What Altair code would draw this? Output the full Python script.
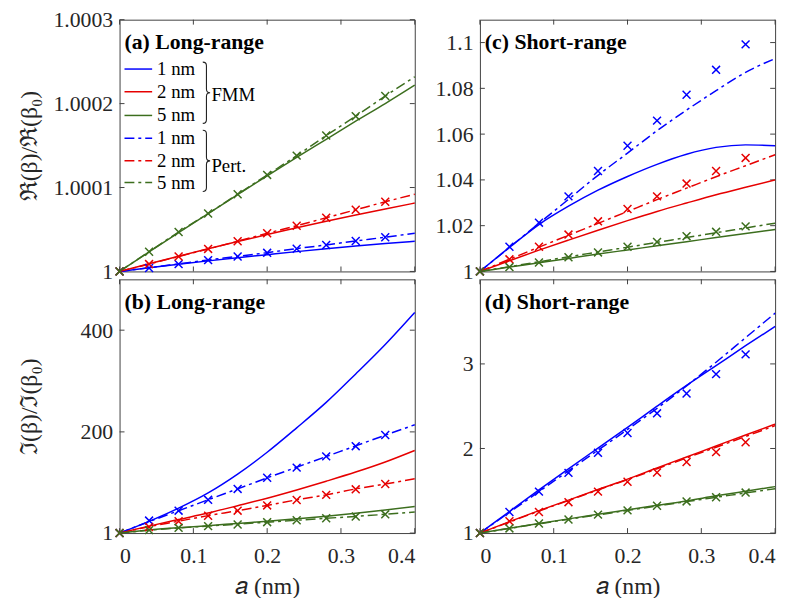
import altair as alt
import pandas as pd

# ---------------- data ----------------
A_LINE = [0.0, 0.04, 0.08, 0.12, 0.16, 0.20, 0.24, 0.28, 0.32, 0.36, 0.40]
A_MARK = [0.0, 0.04, 0.08, 0.12, 0.16, 0.20, 0.24, 0.28, 0.32, 0.36]
SERIES = ["1 nm", "2 nm", "5 nm"]
X_TICKS = [0, 0.1, 0.2, 0.3, 0.4]

# (a) Long-range, Re(beta)/Re(beta0)
A_FMM = {
    "1 nm": [1.0, 1.0000044, 1.0000086, 1.0000126, 1.0000164, 1.00002, 1.0000236, 1.000027, 1.0000302, 1.0000332, 1.000036],
    "2 nm": [1.0, 1.0000092, 1.0000182, 1.000027, 1.0000356, 1.000044, 1.000052, 1.0000598, 1.0000673, 1.0000745, 1.0000815],
    "5 nm": [1.0, 1.0000232, 1.0000462, 1.000069, 1.0000915, 1.000114, 1.000136, 1.0001575, 1.000179, 1.0002, 1.000222],
}
A_PERT = {
    "1 nm": [1.0, 1.0000044, 1.000009, 1.0000136, 1.0000179, 1.0000224, 1.0000272, 1.0000316, 1.0000363, 1.0000408, 1.0000456],
    "2 nm": [1.0, 1.0000088, 1.0000178, 1.0000268, 1.000036, 1.0000455, 1.0000545, 1.000064, 1.0000735, 1.000083, 1.000092],
    "5 nm": [1.0, 1.0000235, 1.000047, 1.000069, 1.000092, 1.000115, 1.000138, 1.000162, 1.000185, 1.000209, 1.000232],
}
A_MARKS = {
    "1 nm": [1.0, 1.0000041, 1.0000087, 1.0000135, 1.0000178, 1.0000222, 1.000027, 1.0000315, 1.0000363, 1.0000408],
    "2 nm": [1.0, 1.0000088, 1.0000178, 1.0000268, 1.000036, 1.0000455, 1.0000545, 1.000064, 1.0000735, 1.000083],
    "5 nm": [1.0, 1.0000235, 1.000047, 1.000069, 1.000092, 1.000115, 1.000138, 1.000162, 1.000185, 1.000209],
}
A_YTICKS = [1, 1.0001, 1.0002, 1.0003]

# (b) Long-range, Im(beta)/Im(beta0)
B_FMM = {
    "1 nm": [1, 24, 50, 80, 117, 160, 208, 258, 314, 372, 435],
    "2 nm": [1, 14.6, 27.6, 40.4, 54.8, 69.6, 85.8, 103, 121, 140.8, 163.5],
    "5 nm": [1, 7, 11.5, 15.5, 20, 24.3, 29, 34, 40, 46.5, 53.4],
}
B_PERT = {
    "1 nm": [1, 23.5, 45, 66.5, 88, 109.5, 130.5, 151.5, 172.5, 193.5, 214],
    "2 nm": [1, 13.5, 24.3, 35.3, 45, 55.4, 66.4, 76.1, 87.8, 97.5, 107.8],
    "5 nm": [1, 6.5, 11, 14.8, 18.4, 22.4, 26.2, 30.1, 33.8, 37.9, 42.5],
}
B_MARKS = {
    "1 nm": [1, 25.6, 45, 66.4, 87.8, 109.7, 129.7, 151.8, 171.9, 193.8],
    "2 nm": [1, 13, 24.3, 35, 45, 55.4, 66, 76.1, 87, 97.5],
    "5 nm": [1, 6.8, 11.3, 14.6, 17.9, 22.4, 26.2, 30.1, 33.4, 37.9],
}
B_YTICKS = [1, 200, 400]

# (c) Short-range, Re(beta)/Re(beta0)
C_FMM = {
    "1 nm": [1.0, 1.0105, 1.0205, 1.0285, 1.0355, 1.0415, 1.0468, 1.0512, 1.0542, 1.0553, 1.0549],
    "2 nm": [1.0, 1.0047, 1.0093, 1.0137, 1.018, 1.0222, 1.0262, 1.0299, 1.0335, 1.0368, 1.040],
    "5 nm": [1.0, 1.0019, 1.0038, 1.0057, 1.0076, 1.0094, 1.0112, 1.013, 1.0148, 1.0166, 1.0183],
}
C_PERT = {
    "1 nm": [1.0, 1.0105, 1.021, 1.0315, 1.042, 1.0517, 1.0615, 1.0705, 1.079, 1.087, 1.093],
    "2 nm": [1.0, 1.0053, 1.0106, 1.0158, 1.021, 1.0262, 1.0314, 1.0364, 1.0414, 1.0462, 1.051],
    "5 nm": [1.0, 1.0021, 1.0042, 1.0064, 1.0085, 1.0106, 1.0127, 1.0148, 1.0169, 1.019, 1.0211],
}
C_MARKS = {
    "1 nm": [1.0, 1.0108, 1.0213, 1.0328, 1.0439, 1.0549, 1.0659, 1.0772, 1.0881, 1.0992],
    "2 nm": [1.0, 1.0053, 1.0108, 1.0161, 1.0219, 1.0273, 1.0328, 1.0384, 1.0439, 1.0496],
    "5 nm": [1.0, 1.0019, 1.0039, 1.0062, 1.0083, 1.0108, 1.0129, 1.0154, 1.0173, 1.0197],
}
C_YTICKS = [1, 1.02, 1.04, 1.06, 1.08, 1.1]

# (d) Short-range, Im(beta)/Im(beta0)
D_FMM = {
    "1 nm": [1, 1.255, 1.51, 1.76, 2.005, 2.25, 2.5, 2.745, 2.98, 3.215, 3.443],
    "2 nm": [1, 1.135, 1.265, 1.39, 1.515, 1.638, 1.77, 1.9, 2.03, 2.16, 2.288],
    "5 nm": [1, 1.057, 1.113, 1.168, 1.222, 1.275, 1.328, 1.38, 1.44, 1.495, 1.549],
}
D_PERT = {
    "1 nm": [1, 1.245, 1.49, 1.735, 1.98, 2.225, 2.475, 2.74, 3.02, 3.31, 3.6],
    "2 nm": [1, 1.13, 1.26, 1.385, 1.51, 1.632, 1.76, 1.888, 2.015, 2.142, 2.27],
    "5 nm": [1, 1.055, 1.11, 1.163, 1.215, 1.268, 1.32, 1.372, 1.423, 1.474, 1.525],
}
D_MARKS = {
    "1 nm": [1, 1.249, 1.49, 1.712, 1.949, 2.183, 2.416, 2.65, 2.879, 3.113],
    "2 nm": [1, 1.14, 1.249, 1.365, 1.49, 1.607, 1.716, 1.84, 1.957, 2.074],
    "5 nm": [1, 1.055, 1.113, 1.16, 1.218, 1.268, 1.323, 1.374, 1.424, 1.479],
}
D_YTICKS = [1, 2, 3]

# ---------------- style ----------------
COLORS = ["#0000ff", "#e60000", "#3c6e1e"]
FONT = "Liberation Serif"
TXT = "#262626"
FRAME = "#404040"
DASHDOT = [10, 4, 3, 4]
XSHAPE = "M-1,-1L1,1M-1,1L1,-1"
BRACE = "M-0.12,-1Q0,-1 0,-0.88L0,-0.12Q0,0 0.12,0Q0,0 0,0.12L0,0.88Q0,1 -0.12,1"
W = 299


def long_df(xs, d):
    rows = []
    for s in SERIES:
        for x, v in zip(xs, d[s]):
            rows.append({"a": x, "v": v, "s": s})
    return pd.DataFrame(rows)


def panel(fmm, pert, marks, yticks, ydom, title, h, show_x, ytitle, ext, legend=False):
    xaxis = (alt.Axis(values=X_TICKS, format="~r", ticks=False, tickSize=0, domain=False,
                      grid=False, labelPadding=13, title="𝑎 (nm)", titlePadding=8)
             if show_x else None)
    yaxis_kw = dict(values=yticks, format="~r", ticks=False, tickSize=0, domain=False,
                    grid=False, labelPadding=7, minExtent=ext, maxExtent=ext)
    if ytitle:
        yaxis = alt.Axis(title=ytitle, titlePadding=10, **yaxis_kw)
    else:
        yaxis = alt.Axis(title=None, **yaxis_kw)
    X = alt.X("a:Q", scale=alt.Scale(domain=[0, 0.4], nice=False, zero=False), axis=xaxis)
    Y = alt.Y("v:Q", scale=alt.Scale(domain=ydom, nice=False, zero=False), axis=yaxis)
    C = alt.Color("s:N", scale=alt.Scale(domain=SERIES, range=COLORS), legend=None)

    solid = alt.Chart(long_df(A_LINE, fmm)).mark_line(
        strokeWidth=1.5, interpolate="monotone").encode(x=X, y=Y, color=C)
    dash = alt.Chart(long_df(A_LINE, pert)).mark_line(
        strokeWidth=1.5, interpolate="monotone", strokeDash=DASHDOT).encode(x=X, y=Y, color=C)
    pts = alt.Chart(long_df(A_MARK, marks)).mark_point(
        shape=XSHAPE, size=64, filled=False, strokeWidth=1.5, opacity=1).encode(x=X, y=Y, color=C)

    ytk = pd.DataFrame({"v": yticks})
    xtk = pd.DataFrame({"a": X_TICKS})
    tk_l = alt.Chart(ytk).mark_rule(color=FRAME, strokeWidth=1).encode(
        y=Y, x=alt.value(0), x2=alt.value(5))
    tk_r = alt.Chart(ytk).mark_rule(color=FRAME, strokeWidth=1).encode(
        y=Y, x=alt.value(W - 5), x2=alt.value(W))
    tk_b = alt.Chart(xtk).mark_rule(color=FRAME, strokeWidth=1).encode(
        x=X, y=alt.value(h - 5), y2=alt.value(h))
    tk_t = alt.Chart(xtk).mark_rule(color=FRAME, strokeWidth=1).encode(
        x=X, y=alt.value(0), y2=alt.value(5))

    ttl = alt.Chart(pd.DataFrame({"t": [title]})).mark_text(
        align="left", baseline="alphabetic", font=FONT, fontSize=22,
        fontWeight="bold", color="black").encode(
        text="t:N", x=alt.value(5), y=alt.value(30))

    layers = [tk_l, tk_r, tk_b, tk_t, solid, dash, pts, ttl]

    if legend:
        one = pd.DataFrame({"z": [0]})
        rows_y = [50, 73, 97, 120, 143, 165]
        for i, ry in enumerate(rows_y):
            col = COLORS[i % 3]
            kw = dict(color=col, strokeWidth=1.5)
            if i >= 3:
                kw["strokeDash"] = DASHDOT
            layers.append(alt.Chart(one).mark_rule(**kw).encode(
                x=alt.value(5), x2=alt.value(33), y=alt.value(ry)))
            layers.append(alt.Chart(pd.DataFrame({"t": [SERIES[i % 3]]})).mark_text(
                align="left", baseline="middle", font=FONT, fontSize=19, color="black").encode(
                text="t:N", x=alt.value(38), y=alt.value(ry)))
        for cy, lab, ly in [(74, "FMM", 76), (143, "Pert.", 148)]:
            layers.append(alt.Chart(one).mark_point(
                shape=BRACE, size=3844, filled=False, strokeWidth=1.1, color="#222",
                opacity=1).encode(x=alt.value(88), y=alt.value(cy)))
            layers.append(alt.Chart(pd.DataFrame({"t": [lab]})).mark_text(
                align="left", baseline="middle", font=FONT, fontSize=19, color="black").encode(
                text="t:N", x=alt.value(93), y=alt.value(ly)))

    return alt.layer(*layers).properties(width=W, height=h)


pa = panel(A_FMM, A_PERT, A_MARKS, A_YTICKS, [1, 1.0003], "(a) Long-range", 255,
           False, "ℜ(β)/ℜ(β₀)", 69, legend=True)
pc = panel(C_FMM, C_PERT, C_MARKS, C_YTICKS, [1, 1.11], "(c) Short-range", 255,
           False, None, 46)
pb = panel(B_FMM, B_PERT, B_MARKS, B_YTICKS, [1, 500], "(b) Long-range", 257,
           True, "ℑ(β)/ℑ(β₀)", 69)
pd_ = panel(D_FMM, D_PERT, D_MARKS, D_YTICKS, [1, 4], "(d) Short-range", 257,
            True, None, 46)

chart = alt.concat(pa, pc, pb, pd_, columns=2, spacing={"row": 8, "column": 66},
                   bounds="flush").properties(
    padding={"left": 9, "top": -4, "right": 5, "bottom": 0},
    background="white",
).configure_view(stroke=FRAME, strokeWidth=1).configure_axis(
    labelFont=FONT, labelFontSize=22, labelColor=TXT,
    titleFont=FONT, titleFontSize=24, titleFontWeight="normal", titleColor=TXT,
)

chart.save("out.html", embed_options={"renderer": "svg", "actions": False})
